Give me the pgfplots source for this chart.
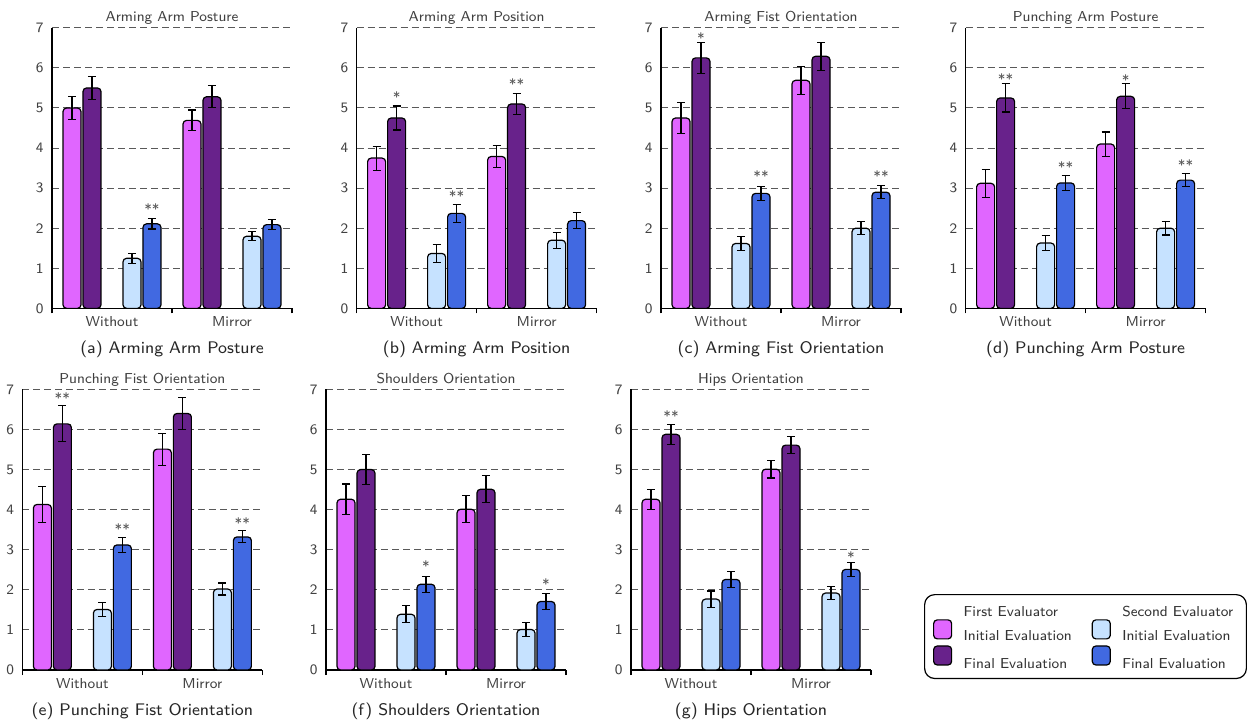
\documentclass[border=0pt]{standalone}
\usepackage{pgfplots}
\pgfplotsset{compat=1.18}
\renewcommand{\familydefault}{\sfdefault}
\definecolor{c1}{RGB}{224,102,255}
\definecolor{c2}{RGB}{104,34,139}
\definecolor{c3}{RGB}{198,226,255}
\definecolor{c4}{RGB}{65,105,225}
\newcommand{\fsmall}{\fontsize{7.2}{8.5}\selectfont}
\newcommand{\fcap}{\fontsize{8.4}{10}\selectfont}
\newcommand{\sig}[3]{\node[font=\fsmall, text=black!65, anchor=base, inner sep=0pt, yshift=2pt] at (axis cs:#1,#2) {#3};}
\pgfplotsset{
  /pgf/number format/assume math mode=true,
  every axis title/.style={at={(0.5,1)}, anchor=base, yshift=3.2pt, inner sep=0pt, font=\fsmall, text=black!75},
  sub/.style={
    scale only axis, width=120pt, height=140.3pt, anchor=south west,
    xmin=0, xmax=2, ymin=0, ymax=7,
    axis x line=bottom, axis y line=left,
    axis line style={-, line width=0.7pt, black},
    xtick={0,1,2}, xticklabels={Without,Mirror,{}},
    xticklabel style={anchor=base, xshift=30pt, yshift=-6.8pt, inner sep=0pt},
    ytick={0,...,7},
    yticklabel style={anchor=east, inner sep=0pt, xshift=-1.5pt},
    tick align=outside, major tick length=2.5pt,
    ytick style={draw=none}, xtick style={black, line width=0.6pt},
    ymajorgrids, grid style={dash pattern=on 3.5pt off 2pt, black!65, line width=0.5pt},
    ticklabel style={font=\fsmall, text=black!75},
    xlabel style={at={(axis description cs:0.5,0)}, anchor=base, yshift=-22.5pt, inner sep=0pt, font=\fcap, text=black!85},
    clip=false,
    ybar,
    every axis plot/.append style={bar shift=0pt, bar width=0.15, draw=black, line width=0.6pt, rounded corners=1.8pt,
      error bars/y dir=both, error bars/y explicit,
      error bars/error bar style={black, line width=0.55pt},
      error bars/error mark options={black, rotate=90, mark size=2pt, line width=0.55pt}},
  },
  hdr/.style={legend image code/.code={\path[draw=none, fill=none] (0pt,-2pt) rectangle (13pt,7.9pt);}},
  swa/.style={legend image code/.code={\draw[overlay, fill=#1, draw=black, line width=0.6pt, rounded corners=1.8pt] (0pt,-1.1pt) rectangle (9pt,8.4pt); \path[draw=none, fill=none] (0pt,-2pt) rectangle (13pt,6.4pt);}},
  swb/.style={legend image code/.code={\draw[overlay, fill=#1, draw=black, line width=0.6pt, rounded corners=1.8pt] (0pt,0.2pt) rectangle (9pt,9.7pt); \path[draw=none, fill=none] (0pt,-2pt) rectangle (13pt,9pt);}},
}
\begin{document}
\begin{tikzpicture}
\useasboundingbox (0,0) rectangle (629pt,362pt);
% (a)
\begin{axis}[sub, at={(26pt,207.8pt)}, title={Arming Arm Posture}, xlabel={(a) Arming Arm Posture}]
\addplot[fill=c1] coordinates {(0.1667,5.00) +- (0,0.28) (1.1667,4.69) +- (0,0.26)};
\addplot[fill=c2] coordinates {(0.3333,5.50) +- (0,0.28) (1.3333,5.28) +- (0,0.27)};
\addplot[fill=c3] coordinates {(0.6667,1.25) +- (0,0.12) (1.6667,1.80) +- (0,0.11)};
\addplot[fill=c4] coordinates {(0.8333,2.11) +- (0,0.13) (1.8333,2.09) +- (0,0.12)};
\sig{0.8333}{2.24}{**}
\end{axis}
% (b)
\begin{axis}[sub, at={(178.3pt,207.8pt)}, title={Arming Arm Position}, xlabel={(b) Arming Arm Position}]
\addplot[fill=c1] coordinates {(0.1667,3.75) +- (0,0.30) (1.1667,3.79) +- (0,0.28)};
\addplot[fill=c2] coordinates {(0.3333,4.75) +- (0,0.30) (1.3333,5.10) +- (0,0.26)};
\addplot[fill=c3] coordinates {(0.6667,1.37) +- (0,0.22) (1.6667,1.70) +- (0,0.20)};
\addplot[fill=c4] coordinates {(0.8333,2.37) +- (0,0.22) (1.8333,2.19) +- (0,0.20)};
\sig{0.3333}{5.03}{*}
\sig{0.8333}{2.57}{**}
\sig{1.3333}{5.36}{**}
\end{axis}
% (c)
\begin{axis}[sub, at={(330.5pt,207.8pt)}, title={Arming Fist Orientation}, xlabel={(c) Arming Fist Orientation}]
\addplot[fill=c1] coordinates {(0.1667,4.75) +- (0,0.38) (1.1667,5.69) +- (0,0.35)};
\addplot[fill=c2] coordinates {(0.3333,6.25) +- (0,0.38) (1.3333,6.29) +- (0,0.35)};
\addplot[fill=c3] coordinates {(0.6667,1.62) +- (0,0.18) (1.6667,2.00) +- (0,0.16)};
\addplot[fill=c4] coordinates {(0.8333,2.87) +- (0,0.18) (1.8333,2.90) +- (0,0.16)};
\sig{0.3333}{6.51}{*}
\sig{0.8333}{3.06}{**}
\sig{1.8333}{3.06}{**}
\end{axis}
% (d)
\begin{axis}[sub, at={(482.8pt,207.8pt)}, title={Punching Arm Posture}, xlabel={(d) Punching Arm Posture}]
\addplot[fill=c1] coordinates {(0.1667,3.12) +- (0,0.35) (1.1667,4.10) +- (0,0.30)};
\addplot[fill=c2] coordinates {(0.3333,5.25) +- (0,0.35) (1.3333,5.29) +- (0,0.31)};
\addplot[fill=c3] coordinates {(0.6667,1.63) +- (0,0.19) (1.6667,2.00) +- (0,0.17)};
\addplot[fill=c4] coordinates {(0.8333,3.13) +- (0,0.19) (1.8333,3.20) +- (0,0.17)};
\sig{0.3333}{5.49}{**}
\sig{0.8333}{3.30}{**}
\sig{1.3333}{5.47}{*}
\sig{1.8333}{3.34}{**}
\end{axis}
% (e)
\begin{axis}[sub, at={(11.2pt,27pt)}, title={Punching Fist Orientation}, xlabel={(e) Punching Fist Orientation}]
\addplot[fill=c1] coordinates {(0.1667,4.13) +- (0,0.45) (1.1667,5.51) +- (0,0.40)};
\addplot[fill=c2] coordinates {(0.3333,6.14) +- (0,0.45) (1.3333,6.40) +- (0,0.40)};
\addplot[fill=c3] coordinates {(0.6667,1.51) +- (0,0.18) (1.6667,2.02) +- (0,0.15)};
\addplot[fill=c4] coordinates {(0.8333,3.12) +- (0,0.18) (1.8333,3.32) +- (0,0.15)};
\sig{0.3333}{6.56}{**}
\sig{0.8333}{3.27}{**}
\sig{1.8333}{3.44}{**}
\end{axis}
% (f)
\begin{axis}[sub, at={(163pt,27pt)}, title={Shoulders Orientation}, xlabel={(f) Shoulders Orientation}]
\addplot[fill=c1] coordinates {(0.1667,4.26) +- (0,0.38) (1.1667,4.01) +- (0,0.34)};
\addplot[fill=c2] coordinates {(0.3333,5.00) +- (0,0.38) (1.3333,4.51) +- (0,0.34)};
\addplot[fill=c3] coordinates {(0.6667,1.39) +- (0,0.21) (1.6667,1.01) +- (0,0.18)};
\addplot[fill=c4] coordinates {(0.8333,2.14) +- (0,0.20) (1.8333,1.71) +- (0,0.19)};
\sig{0.8333}{2.36}{*}
\sig{1.8333}{1.90}{*}
\end{axis}
% (g)
\begin{axis}[sub, at={(315.5pt,27pt)}, title={Hips Orientation}, xlabel={(g) Hips Orientation},
  legend columns=2, legend cell align=left,
  legend style={at={(axis description cs:1.221,0.2707)}, anchor=north west, draw=black, line width=0.6pt,
    rounded corners=5pt, font=\fsmall, text=black!80, inner xsep=4.5pt, inner ysep=1.3pt,
    row sep=0.1pt, /tikz/every even column/.append style={column sep=8.2pt}}]
\addplot[fill=c1, forget plot] coordinates {(0.1667,4.26) +- (0,0.25) (1.1667,5.01) +- (0,0.22)};
\addplot[fill=c2, forget plot] coordinates {(0.3333,5.88) +- (0,0.25) (1.3333,5.61) +- (0,0.22)};
\addplot[fill=c3, forget plot] coordinates {(0.6667,1.77) +- (0,0.20) (1.6667,1.92) +- (0,0.16)};
\addplot[fill=c4, forget plot] coordinates {(0.8333,2.26) +- (0,0.20) (1.8333,2.51) +- (0,0.17)};
\sig{0.3333}{6.10}{**}
\sig{1.8333}{2.57}{*}
\addlegendimage{hdr}\addlegendentry{First Evaluator}
\addlegendimage{hdr}\addlegendentry{Second Evaluator}
\addlegendimage{swa=c1}\addlegendentry{Initial Evaluation}
\addlegendimage{swa=c3}\addlegendentry{Initial Evaluation}
\addlegendimage{swb=c2}\addlegendentry{Final Evaluation}
\addlegendimage{swb=c4}\addlegendentry{Final Evaluation}
\end{axis}
\end{tikzpicture}
\end{document}
